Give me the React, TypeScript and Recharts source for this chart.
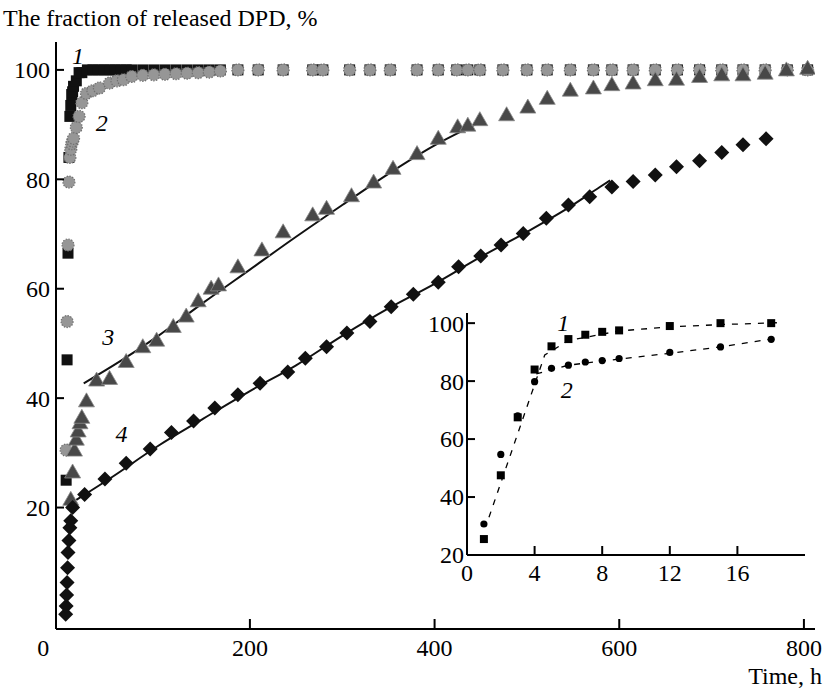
import React from 'react';
import { ComposedChart, Scatter, Line, XAxis, YAxis, ReferenceDot } from 'recharts';

const FONT = '"Liberation Serif", "Times New Roman", serif';

// ---------- main chart data (time, h / released %) ----------
const s1Time = [1, 2, 3, 4, 5, 6, 7, 8, 9, 12, 15, 18, 24, 30, 36, 42, 48, 54, 60, 66, 72,
  84, 96, 108, 120, 132, 144, 156, 168, 187, 209, 236, 268, 279, 308, 330, 352, 381, 404, 424,
  436, 449, 474, 500, 522, 547, 572, 592, 615, 639, 663, 687, 711, 734, 758, 782, 804];
const s1Value = [25, 47, 66.5, 84, 91.5, 93.5, 95.5, 96, 97, 98, 99.5, 99.5, 100, 100, 100, 100, 100, 100, 100, 100, 100,
  100, 100, 100, 100, 100, 100, 100, 100, 100, 100, 100, 100, 100, 100, 100, 100, 100, 100, 100,
  100, 100, 100, 100, 100, 100, 100, 100, 100, 100, 100, 100, 100, 100, 100, 100, 100];

const s2Time = [1, 2, 3, 4, 5, 6, 7, 8, 9, 12, 15, 18, 23, 30, 37, 48, 56, 63, 72,
  84, 96, 108, 120, 132, 144, 156, 168, 187, 209, 236, 268, 279, 308, 330, 352, 381, 404, 424,
  436, 449, 474, 500, 522, 547, 572, 592, 615, 639, 663, 687, 711, 734, 758, 782, 804];
const s2Value = [30.5, 54, 68, 79.5, 84, 85.5, 86.5, 87, 87.5, 89.5, 91.5, 94, 95.7, 96.2, 96.7, 97.6, 98, 98.2, 98.8,
  99, 99.1, 99.2, 99.3, 99.4, 99.5, 99.6, 99.8, 100, 100, 100, 100, 100, 100, 100, 100, 100, 100, 100,
  100, 100, 100, 100, 100, 100, 100, 100, 100, 100, 100, 100, 100, 100, 100, 100, 100];

const s3Time = [6, 8, 10, 12, 14, 16, 18, 23, 34, 48, 66, 84, 99, 117, 131, 144, 158, 166, 187, 213,
  236, 268, 283, 310, 334, 355, 381, 404, 425, 436, 449, 478, 501, 522, 547, 572, 592, 615, 639,
  662, 687, 711, 734, 758, 781, 804];
const s3Value = [21.5, 26.5, 30.5, 32.5, 34, 35.5, 36.5, 39.5, 43.3, 43.6, 46.7, 49.4, 50.6, 53.1, 55, 57.8, 60.1, 60.7, 64, 67.1,
  70.4, 73.5, 74.7, 77, 79.5, 82, 84.7, 87.5, 89.6, 89.9, 90.9, 91.8, 93.2, 94.8, 96.3, 96.7, 97.3, 97.6, 98.2,
  98.3, 98.8, 99.1, 99.1, 99.4, 100, 100.3];

const s4Time = [0.5, 1, 1.5, 2, 2.5, 3, 4, 5, 6, 8, 21, 43, 66, 92, 115, 139, 162, 187, 211, 241,
  260, 283, 305, 330, 353, 377, 404, 426, 450, 472, 496, 521, 545, 568, 592, 615, 639, 662, 687,
  711, 734, 759];
const s4Value = [0.5, 2, 4, 6.3, 9, 11.8, 14, 16.3, 17.6, 20, 22.4, 25.2, 28.1, 30.7, 33.7, 35.8, 38.2, 40.6, 42.7, 44.8,
  47.3, 49.4, 51.9, 54, 56.7, 59, 61.2, 64, 66, 68, 70.1, 72.9, 75.3, 76.8, 78.6, 79.6, 80.8, 82.3, 83.4,
  84.9, 86.3, 87.4];

const fit3Time = [20, 60, 100, 150, 200, 250, 300, 350, 400, 450];
const fit3Value = [42.7, 46.8, 51.3, 57.5, 63.5, 69.5, 75.3, 81, 86.2, 90.5];
const fit4Time = [12, 50, 100, 150, 200, 250, 300, 350, 400, 450, 500, 543, 579, 590];
const fit4Value = [21.4, 25.5, 31.2, 36.3, 41.3, 46, 51.4, 56.4, 60.9, 65.8, 70.4, 74.6, 78.6, 79.8];

const mainXTicks = [0, 200, 400, 600, 800];
const mainYTicks = [20, 40, 60, 80, 100];
const mainLabels = [
  { text: '1', x: 13.8, y: 102.7 },
  { text: '2', x: 39.5, y: 90.3 },
  { text: '3', x: 46.6, y: 51.2 },
  { text: '4', x: 61, y: 33.6 },
];

// ---------- inset data (first hours) ----------
const inTime = [1, 2, 3, 4, 5, 6, 7, 8, 9, 12, 15, 18];
const in1Value = [25.5, 47.5, 67.5, 84, 92, 94.5, 96, 97, 97.5, 99, 100, 100];
const in2Value = [30.7, 54.7, 68, 79.8, 84.4, 85.5, 86.6, 87.1, 87.8, 89.9, 91.8, 94.4];
const dash1Time = [1.3, 4.6, 6, 9, 12, 15, 18.7];
const dash1Value = [33, 89, 94, 97.3, 98.7, 99.5, 100.2];
const dash2Time = [4.1, 6, 9, 12, 15, 18.5];
const dash2Value = [82.5, 85.5, 87.6, 89.6, 91.8, 95];
const inXTicks = [0, 4, 8, 12, 16];
const inYTicks = [20, 40, 60, 80, 100];
const inLabels = [
  { text: '1', x: 5.7, y: 100.3 },
  { text: '2', x: 5.9, y: 76.9 },
];

const pts = (xs: number[], ys: number[]) => xs.map((x, i) => ({ x, y: ys[i] }));

// ---------- marker shapes ----------
const Square = (size: number, fill: string) => (p: any) => (
  <rect x={p.cx - size / 2} y={p.cy - size / 2} width={size} height={size} fill={fill} />
);
const GearCircle = (p: any) => (
  <circle cx={p.cx} cy={p.cy} r={6} fill="#969696" stroke="#707070" strokeWidth={1.2} strokeDasharray="1.4 1.4" />
);
const Triangle = (p: any) => (
  <path d={`M${p.cx},${p.cy - 8} L${p.cx + 8},${p.cy + 6} L${p.cx - 8},${p.cy + 6} Z`} fill="#484848" stroke="#8a8a8a" strokeWidth={0.8} />
);
const Diamond = (p: any) => (
  <path d={`M${p.cx},${p.cy - 7.5} L${p.cx + 7.5},${p.cy} L${p.cx},${p.cy + 7.5} L${p.cx - 7.5},${p.cy} Z`} fill="#111" />
);
const Dot = (p: any) => <circle cx={p.cx} cy={p.cy} r={3.6} fill="#000" />;

const textStyle = { fontFamily: FONT, fontSize: 24, fill: '#000' };

const makeYTick = (len: number, margin: number, skip: number | null) => (p: any) => {
  const axisX = p.x + margin;
  return (
    <g>
      {p.payload.value !== skip && (
        <line x1={axisX} x2={axisX + len} y1={p.y} y2={p.y} stroke="#000" strokeWidth={2} />
      )}
      <text x={p.x} y={p.y} dy="0.35em" textAnchor="end" style={textStyle}>{p.payload.value}</text>
    </g>
  );
};

const makeXTick = (len: number, margin: number, zeroShift: number) => (p: any) => {
  const axisY = p.y - margin;
  const isZero = p.payload.value === 0;
  return (
    <g>
      {!isZero && (
        <line x1={p.x} x2={p.x} y1={axisY} y2={axisY - len} stroke="#000" strokeWidth={2} />
      )}
      <text x={p.x + (isZero ? zeroShift : 0)} y={p.y} dy="0.75em" textAnchor="middle" style={textStyle}>{p.payload.value}</text>
    </g>
  );
};

const LabelShape = (text: string) => (p: any) => (
  <text x={p.cx} y={p.cy} dy="0.35em" textAnchor="middle" style={{ ...textStyle, fontStyle: 'italic' }}>{text}</text>
);

export default function App() {
  return (
    <div style={{ position: 'absolute', left: 0, top: 0, width: 825, height: 688, background: '#fff' }}>
      <div style={{ position: 'absolute', left: 0, top: 0 }}>
        <ComposedChart width={825} height={688} margin={{ top: 42, right: 10, bottom: 0, left: 0 }}>
          <XAxis type="number" dataKey="x" domain={[-10, 812]} ticks={mainXTicks} height={59}
            axisLine={{ stroke: '#000', strokeWidth: 2 }} tickLine={false} tickSize={0} tickMargin={9}
            tick={makeXTick(10, 9, -22)} allowDataOverflow />
          <YAxis type="number" dataKey="y" domain={[-2.2, 105.1]} ticks={mainYTicks} width={56}
            axisLine={{ stroke: '#000', strokeWidth: 2 }} tickLine={false} tickSize={0} tickMargin={6}
            tick={makeYTick(8, 6, null)} allowDataOverflow />
          <Scatter data={pts(s1Time, s1Value)} shape={Square(11, '#111')} isAnimationActive={false} />
          <Scatter data={pts(s2Time, s2Value)} shape={GearCircle} isAnimationActive={false} />
          <Scatter data={pts(s3Time, s3Value)} shape={Triangle} isAnimationActive={false} />
          <Scatter data={pts(s4Time, s4Value)} shape={Diamond} isAnimationActive={false} />
          <Line data={pts(fit3Time, fit3Value)} dataKey="y" type="monotone" stroke="#111" strokeWidth={2} dot={false} isAnimationActive={false} />
          <Line data={pts(fit4Time, fit4Value)} dataKey="y" type="monotone" stroke="#111" strokeWidth={2} dot={false} isAnimationActive={false} />
          {mainLabels.map((l) => (
            <ReferenceDot key={'m' + l.text} x={l.x} y={l.y} r={0} ifOverflow="visible" shape={LabelShape(l.text)} />
          ))}
        </ComposedChart>
      </div>

      <div style={{ position: 'absolute', left: 400, top: 290 }}>
        <ComposedChart width={425} height={300} margin={{ top: 23, right: 20, bottom: 0, left: 0 }}>
          <XAxis type="number" dataKey="x" domain={[0, 20]} ticks={inXTicks} height={35}
            axisLine={{ stroke: '#000', strokeWidth: 2 }} tickLine={false} tickSize={0} tickMargin={8}
            tick={makeXTick(9, 8, 0)} allowDataOverflow />
          <YAxis type="number" dataKey="y" domain={[20, 103.5]} ticks={inYTicks} width={67}
            axisLine={{ stroke: '#000', strokeWidth: 2 }} tickLine={false} tickSize={0} tickMargin={3}
            tick={makeYTick(8, 3, 20)} allowDataOverflow />
          <Line data={pts(dash1Time, dash1Value)} dataKey="y" type="linear" stroke="#000" strokeWidth={1.3} strokeDasharray="6 7" dot={false} isAnimationActive={false} />
          <Line data={pts(dash2Time, dash2Value)} dataKey="y" type="linear" stroke="#000" strokeWidth={1.3} strokeDasharray="6 7" dot={false} isAnimationActive={false} />
          <Scatter data={pts(inTime, in1Value)} shape={Square(8, '#000')} isAnimationActive={false} />
          <Scatter data={pts(inTime, in2Value)} shape={Dot} isAnimationActive={false} />
          {inLabels.map((l) => (
            <ReferenceDot key={'i' + l.text} x={l.x} y={l.y} r={0} ifOverflow="visible" shape={LabelShape(l.text)} />
          ))}
        </ComposedChart>
      </div>

      <div style={{ position: 'absolute', left: 3, top: 6, fontFamily: FONT, fontSize: 24, lineHeight: '24px', whiteSpace: 'nowrap', color: '#000' }}>
        The fraction of released DPD, %
      </div>
      <div style={{ position: 'absolute', right: 3, top: 664, fontFamily: FONT, fontSize: 24, lineHeight: '24px', whiteSpace: 'nowrap', color: '#000' }}>
        Time, h
      </div>
    </div>
  );
}
